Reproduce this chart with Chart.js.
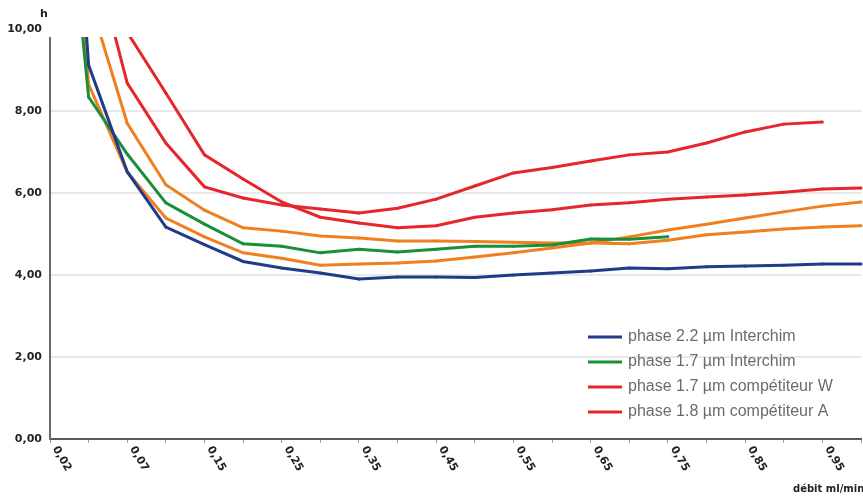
<!DOCTYPE html>
<html><head><meta charset="utf-8">
<script src="https://cdn.jsdelivr.net/npm/chart.js@4/dist/chart.umd.min.js"></script>
<style>
  html, body { margin:0; padding:0; background:#fff; }
  #wrap { width:863px; height:498px; position:relative; }
</style>
</head><body>
<div id="wrap"><canvas id="c"></canvas></div>
<script>
/* débit (ml/min) on x, h on y */
const debits   = [0.02,0.05,0.07,0.10,0.15,0.20,0.25,0.30,0.35,0.40,0.45,0.50,0.55,0.60,0.65,0.70,0.75,0.80,0.85,0.90,0.95,1.00];
const blue22   = [22.4,9.12,6.52,5.17,4.74,4.33,4.17,4.05,3.90,3.95,3.95,3.94,4.00,4.05,4.10,4.17,4.15,4.20,4.22,4.24,4.27,4.27];
const green17  = [17.9,8.34,6.95,5.76,5.24,4.76,4.70,4.54,4.63,4.56,4.63,4.70,4.70,4.73,4.88,4.87,4.93,null,null,null,null,null];
const redW     = [20.0,12.3,8.68,7.22,6.15,5.88,5.71,5.61,5.51,5.63,5.85,6.17,6.49,6.62,6.78,6.93,7.00,7.22,7.49,7.68,7.73,null];
const redA     = [20.0,14.0,9.92,8.44,6.93,6.34,5.78,5.41,5.27,5.15,5.20,5.41,5.51,5.59,5.71,5.76,5.85,5.90,5.95,6.02,6.10,6.12];
const orangeHi = [18.0,10.8,7.70,6.20,5.58,5.15,5.07,4.95,4.90,4.83,4.83,4.82,4.80,4.78,4.78,4.76,4.85,4.98,5.05,5.12,5.17,5.20];
const orangeLo = [20.0,8.65,6.51,5.39,4.93,4.54,4.41,4.24,4.27,4.29,4.34,4.44,4.54,4.66,4.78,4.93,5.10,5.24,5.39,5.54,5.68,5.78];
const yTicks   = [0, 2, 4, 6, 8, 10];

const C = { blue:'#1f3b8a', green:'#1a8f3a', red:'#e6262b', orange:'#f07f1f' };
const legendLabels = ['phase 2.2 µm Interchim', 'phase 1.7 µm Interchim',
                      'phase 1.7 µm compétiteur W', 'phase 1.8 µm compétiteur A'];
const legendColors = [C.blue, C.green, C.red, C.red];

const fr = v => (+v).toFixed(2).replace('.', ',');

function ds(label, data, color) {
  return { label, data, borderColor:color, backgroundColor:color, borderWidth:3,
           pointRadius:1.5, pointHoverRadius:0, pointBorderWidth:0, tension:0,
           spanGaps:false, clip:{ left:2, top:-8, right:4, bottom:4 } };
}

/* axis line, rotated x labels, axis titles and the in-plot legend */
const decor = {
  id:'decor',
  afterDraw(chart) {
    const ctx = chart.ctx, a = chart.chartArea, xs = chart.scales.x;
    ctx.save();
    ctx.strokeStyle = '#6a6a6a'; ctx.lineWidth = 2;
    ctx.beginPath(); ctx.moveTo(a.left, a.top + 8); ctx.lineTo(a.left, a.bottom + 1); ctx.stroke();

    ctx.fillStyle = '#222'; ctx.font = 'bold 11px "DejaVu Sans"';
    debits.forEach((d, i) => {
      if (i % 2) return;
      const x = xs.getPixelForTick(i);
      ctx.save();
      ctx.translate(x + 5, a.bottom + 8);
      ctx.rotate(Math.PI / 3);
      ctx.textAlign = 'left'; ctx.textBaseline = 'middle';
      ctx.fillText(fr(d), 0, 0);
      ctx.restore();
    });

    ctx.textAlign = 'left'; ctx.textBaseline = 'middle';
    ctx.font = 'bold 11px "DejaVu Sans"';
    ctx.fillText('h', 40, 14);
    ctx.font = 'bold 10px "DejaVu Sans"';
    ctx.fillText('débit ml/min', 793, 489);

    ctx.font = '16px "Liberation Sans", Arial';
    legendLabels.forEach((t, i) => {
      const y = a.top + 308 + i * 25;
      ctx.strokeStyle = legendColors[i]; ctx.lineWidth = 3;
      ctx.beginPath(); ctx.moveTo(588, y); ctx.lineTo(622, y); ctx.stroke();
      ctx.fillStyle = '#6b6b6b';
      ctx.fillText(t, 628, y);
    });
    ctx.restore();
  }
};

new Chart(document.getElementById('c'), {
  type:'line',
  data:{ labels: debits.map(fr), datasets:[
    ds(legendLabels[0], blue22, C.blue),
    ds(legendLabels[1], green17, C.green),
    ds(legendLabels[2], redW, C.red),
    ds(legendLabels[3], redA, C.red),
    ds('orange 1', orangeHi, C.orange),
    ds('orange 2', orangeLo, C.orange)
  ]},
  options:{
    responsive:true, maintainAspectRatio:false, animation:false,
    layout:{ padding:{ top:29, right:2, left:0, bottom:0 } },
    plugins:{ legend:{ display:false }, tooltip:{ enabled:false } },
    scales:{
      x:{ offset:false,
          grid:{ display:true, drawOnChartArea:false, drawTicks:true, tickLength:4, color:'#999', lineWidth:1 },
          border:{ display:true, color:'#5a5a5a', width:2 },
          ticks:{ display:false, autoSkip:false },
          afterFit(s) { s.height = 59; } },
      y:{ min:0, max:10,
          afterBuildTicks(s) { s.ticks = yTicks.map(v => ({ value:v })); },
          grid:{ drawTicks:false, lineWidth:2, color:c => c.tick && c.tick.value === 10 ? 'rgba(0,0,0,0)' : '#e9e9e9' },
          border:{ display:false },
          ticks:{ padding:8, color:'#222', font:{ family:'DejaVu Sans', weight:'bold', size:11 }, callback:v => fr(v) },
          afterFit(s) { s.width = 50; } }
    }
  },
  plugins:[decor]
});
</script>
</body></html>
